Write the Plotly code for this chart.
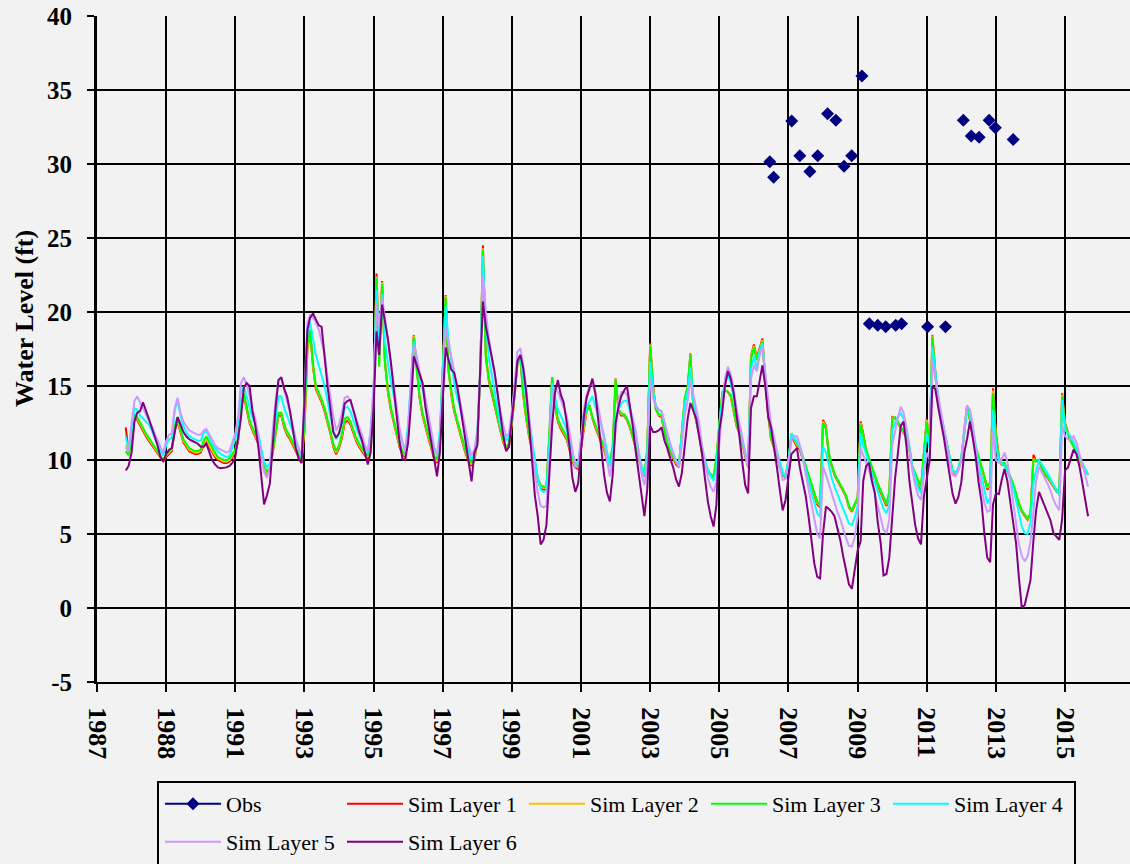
import pandas as pd
import plotly.graph_objects as go

# ---------------- data (monthly simulated heads, starting Nov 1987) ----------------
START = "1987-11-01"

layer1 = [
    12.2, 10.5,
    11.2, 12.9, 12.7, 12.3, 12.0, 11.6, 11.3, 11.0, 10.7, 10.4, 10.1, 9.9,
    10.2, 10.4, 10.6, 12.0, 12.6, 11.9, 11.2, 10.9, 10.6, 10.5, 10.4, 10.4,
    10.5, 11.0, 11.3, 10.9, 10.5, 10.2, 10.0, 9.9, 9.8, 9.8, 9.9, 10.2,
    10.5, 11.3, 13.5, 14.3, 13.4, 12.5, 12.0, 11.6, 11.1, 10.2, 9.4, 9.0,
    9.4, 10.5, 11.8, 13.0, 13.0, 12.2, 11.7, 11.4, 11.0, 10.6, 10.2, 9.8,
    12.0, 17.5, 18.7, 16.3, 14.8, 14.4, 13.9, 13.3, 12.6, 11.8, 10.9, 10.4,
    10.8, 11.5, 12.5, 12.7, 12.4, 11.8, 11.3, 10.9, 10.6, 10.3, 10.1, 11.0,
    14.0, 22.6, 17.0, 22.1, 16.7, 14.6, 13.4, 12.6, 11.7, 10.9, 10.4, 10.2,
    11.5, 14.5, 18.45, 16.2, 14.2, 13.0, 12.2, 11.5, 10.8, 10.1, 9.8, 11.0,
    16.0, 21.15, 16.3, 14.4, 13.3, 12.5, 11.8, 11.1, 10.4, 9.9, 9.6, 10.0,
    11.2, 16.0, 24.5, 17.2, 15.4, 14.5, 13.6, 12.8, 12.0, 11.2, 10.7, 10.9,
    12.4, 14.5, 16.6, 16.9, 14.4, 12.8, 11.6, 10.7, 9.8, 8.6, 8.1, 8.0,
    8.0, 11.5, 15.6, 13.6, 12.6, 12.1, 11.8, 11.4, 10.7, 9.9, 9.5, 9.4,
    10.8, 12.2, 13.3, 13.7, 12.8, 12.2, 11.7, 11.2, 10.7, 10.0, 9.6, 10.5,
    15.5, 13.3, 13.0, 13.0, 12.7, 12.2, 11.5, 10.7, 10.1, 9.5, 8.9, 10.5,
    17.9, 15.0, 13.5, 13.0, 12.9, 11.9, 11.1, 10.5, 10.1, 9.7, 9.5, 11.5,
    14.0, 14.8, 17.2, 13.5, 12.7, 11.7, 10.4, 9.6, 9.2, 8.95, 8.8, 10.0,
    12.3, 14.4, 14.7, 14.6, 14.3, 13.2, 12.3, 11.8, 11.0, 10.3, 9.5, 17.0,
    17.8, 16.9, 17.5, 18.2, 15.3, 13.0, 11.4, 10.8, 10.3, 9.5, 9.0, 8.8,
    9.8, 11.6, 11.3, 10.9, 10.7, 10.0, 9.4, 8.8, 8.2, 7.6, 7.0, 6.8,
    12.7, 12.3, 10.4, 9.6, 9.0, 8.6, 8.3, 7.9, 7.5, 6.8, 6.5, 6.9,
    7.4, 12.6, 11.8, 10.6, 10.0, 9.5, 8.9, 8.3, 7.8, 7.3, 6.9, 7.5,
    12.9, 12.8, 12.5, 12.1, 11.8, 11.5, 10.7, 9.5, 9.0, 8.4, 8.0, 10.5,
    12.8, 10.9, 18.45, 16.0, 14.0, 12.9, 11.9, 10.9, 10.1, 9.2, 9.0, 9.4,
    10.0, 11.8, 13.6, 12.7, 11.6, 10.8, 10.2, 9.5, 8.8, 8.0, 8.3, 14.85,
    11.8, 10.2, 9.7, 9.7, 9.3, 8.8, 8.3, 7.6, 7.0, 6.5, 6.2, 5.95,
    6.3, 10.35, 9.9, 10.0, 9.4, 9.0, 8.8, 8.5, 8.2, 7.9, 7.7, 14.5,
    12.5, 11.8, 11.3, 10.9, 10.4, 10.0, 9.6, 9.3, 9.0,
]

layer2 = [
    11.0, 10.4,
    11.3, 13.0, 12.8, 12.4, 12.1, 11.7, 11.4, 11.1, 10.8, 10.5, 10.2, 9.95,
    10.3, 10.5, 10.7, 12.1, 12.7, 12.0, 11.3, 11.0, 10.7, 10.6, 10.5, 10.5,
    10.6, 11.1, 11.4, 11.0, 10.6, 10.3, 10.1, 10.0, 9.9, 9.9, 10.0, 10.3,
    10.6, 11.4, 13.65, 14.4, 13.5, 12.6, 12.1, 11.7, 11.2, 10.3, 9.5, 9.1,
    9.45, 10.55, 11.9, 13.1, 13.1, 12.3, 11.8, 11.5, 11.1, 10.7, 10.3, 9.9,
    12.2, 17.6, 18.75, 16.4, 14.9, 14.5, 14.0, 13.4, 12.7, 11.9, 11.0, 10.5,
    10.9, 11.65, 12.65, 12.8, 12.5, 11.9, 11.4, 11.0, 10.7, 10.4, 10.2, 11.2,
    14.1, 22.4, 16.6, 22.0, 16.6, 14.7, 13.5, 12.7, 11.8, 11.0, 10.5, 10.3,
    11.7, 14.7, 18.4, 16.1, 14.25, 13.1, 12.3, 11.6, 10.9, 10.2, 9.9, 11.2,
    16.1, 21.1, 16.15, 14.5, 13.4, 12.6, 11.9, 11.2, 10.5, 10.0, 9.7, 10.1,
    11.3, 16.0, 24.3, 17.0, 15.5, 14.6, 13.7, 12.9, 12.1, 11.3, 10.8, 11.0,
    12.5, 14.6, 16.6, 16.9, 14.45, 12.9, 11.7, 10.8, 9.9, 8.7, 8.2, 8.1,
    8.1, 11.6, 15.6, 13.7, 12.7, 12.2, 11.9, 11.5, 10.8, 10.0, 9.6, 9.5,
    11.0, 12.4, 13.35, 13.65, 12.85, 12.3, 11.8, 11.3, 10.8, 10.1, 9.7, 10.7,
    15.45, 13.35, 13.1, 13.05, 12.75, 12.25, 11.55, 10.75, 10.15, 9.55, 8.95, 10.6,
    17.8, 14.9, 13.45, 13.05, 13.0, 11.95, 11.15, 10.55, 10.15, 9.8, 9.6, 11.8,
    14.1, 14.9, 17.15, 13.55, 12.75, 11.75, 10.45, 9.65, 9.25, 9.0, 8.85, 10.1,
    12.4, 14.5, 14.7, 14.6, 14.35, 13.25, 12.35, 11.85, 11.1, 10.4, 9.6, 16.9,
    17.7, 16.8, 17.4, 18.1, 15.25, 13.05, 11.45, 10.85, 10.4, 9.55, 9.05, 8.85,
    9.9, 11.7, 11.4, 11.0, 10.8, 10.1, 9.5, 8.9, 8.3, 7.7, 7.1, 6.9,
    12.6, 12.2, 10.45, 9.65, 9.05, 8.65, 8.35, 7.95, 7.55, 6.85, 6.55, 6.95,
    7.45, 12.5, 11.7, 10.65, 10.05, 9.55, 8.95, 8.35, 7.9, 7.35, 7.0, 7.7,
    12.85, 12.85, 12.55, 12.15, 11.85, 11.55, 10.75, 9.55, 9.05, 8.5, 8.1, 10.5,
    12.7, 10.95, 18.4, 15.9, 14.05, 12.95, 11.95, 10.95, 10.15, 9.25, 9.05, 9.45,
    10.1, 11.9, 13.6, 12.75, 11.65, 10.85, 10.25, 9.55, 8.85, 8.1, 8.4, 14.7,
    11.6, 10.1, 9.75, 9.75, 9.35, 8.85, 8.35, 7.65, 7.05, 6.55, 6.25, 6.0,
    6.35, 10.1, 9.95, 10.0, 9.45, 9.05, 8.85, 8.55, 8.25, 7.95, 7.75, 14.4,
    12.4, 11.8, 11.3, 10.9, 10.4, 10.0, 9.6, 9.3, 9.05,
]

layer3 = [
    10.6, 10.3,
    11.4, 13.1, 12.9, 12.5, 12.2, 11.8, 11.5, 11.2, 10.9, 10.6, 10.3, 10.0,
    10.4, 10.6, 10.8, 12.3, 12.9, 12.1, 11.4, 11.1, 10.8, 10.7, 10.6, 10.6,
    10.7, 11.3, 11.6, 11.2, 10.8, 10.5, 10.2, 10.1, 10.0, 10.0, 10.1, 10.4,
    10.7, 11.5, 13.8, 14.5, 13.6, 12.7, 12.2, 11.8, 11.3, 10.4, 9.6, 9.2,
    9.5, 10.6, 12.0, 13.2, 13.2, 12.4, 11.9, 11.6, 11.2, 10.8, 10.4, 10.0,
    12.4, 17.8, 18.8, 16.5, 15.0, 14.6, 14.1, 13.5, 12.8, 12.0, 11.1, 10.6,
    11.0, 11.8, 12.8, 12.9, 12.6, 12.0, 11.5, 11.1, 10.8, 10.5, 10.3, 11.4,
    14.3, 22.3, 16.3, 21.9, 16.5, 14.8, 13.6, 12.8, 11.9, 11.1, 10.6, 10.4,
    12.0, 15.0, 18.3, 16.0, 14.3, 13.2, 12.4, 11.7, 11.0, 10.3, 10.0, 11.5,
    16.2, 21.0, 16.0, 14.6, 13.5, 12.7, 12.0, 11.3, 10.6, 10.1, 9.8, 10.2,
    11.4, 16.0, 24.2, 16.8, 15.6, 14.7, 13.8, 13.0, 12.2, 11.4, 10.9, 11.1,
    12.7, 14.7, 16.6, 16.9, 14.5, 13.0, 11.8, 10.9, 10.0, 8.8, 8.3, 8.2,
    8.2, 11.8, 15.6, 13.8, 12.8, 12.3, 12.0, 11.6, 10.9, 10.1, 9.7, 9.55,
    11.2, 12.6, 13.4, 13.6, 12.9, 12.4, 11.9, 11.4, 10.9, 10.2, 9.8, 11.0,
    15.4, 13.4, 13.15, 13.1, 12.8, 12.3, 11.6, 10.8, 10.2, 9.6, 9.0, 10.8,
    17.7, 14.8, 13.4, 13.1, 13.05, 12.0, 11.2, 10.6, 10.2, 9.85, 9.65, 12.0,
    14.2, 15.0, 17.1, 13.6, 12.8, 11.8, 10.5, 9.7, 9.3, 9.05, 8.9, 10.2,
    12.5, 14.6, 14.7, 14.6, 14.4, 13.3, 12.4, 11.9, 11.2, 10.45, 9.65, 16.8,
    17.6, 16.75, 17.3, 18.0, 15.2, 13.1, 11.5, 10.9, 10.45, 9.6, 9.1, 8.9,
    10.0, 11.8, 11.5, 11.1, 10.9, 10.2, 9.6, 9.0, 8.4, 7.8, 7.2, 6.95,
    12.5, 12.1, 10.5, 9.7, 9.1, 8.7, 8.4, 8.0, 7.6, 6.9, 6.6, 7.0,
    7.5, 12.4, 11.6, 10.7, 10.1, 9.6, 9.0, 8.4, 7.95, 7.4, 7.05, 7.9,
    12.8, 12.9, 12.6, 12.2, 11.9, 11.6, 10.8, 9.6, 9.1, 8.6, 8.2, 10.5,
    12.6, 11.0, 18.3, 15.8, 14.1, 13.0, 12.0, 11.0, 10.2, 9.3, 9.1, 9.5,
    10.2, 12.0, 13.6, 12.8, 11.7, 10.9, 10.3, 9.6, 8.9, 8.2, 8.5, 14.5,
    11.5, 10.0, 9.8, 9.8, 9.4, 8.9, 8.4, 7.7, 7.1, 6.6, 6.3, 6.05,
    6.4, 10.0, 10.0, 10.0, 9.5, 9.1, 8.9, 8.6, 8.3, 8.0, 7.85, 14.3,
    12.4, 11.7, 11.3, 10.9, 10.5, 10.1, 9.7, 9.4, 9.0,
]

layer4 = [
    11.6, 10.6,
    12.0, 13.5, 13.4, 13.0, 12.8, 12.6, 12.4, 12.0, 11.5, 11.0, 10.6, 10.3,
    11.0, 11.4, 11.5, 13.3, 14.1, 13.0, 12.3, 11.9, 11.6, 11.5, 11.4, 11.3,
    11.3, 11.8, 12.0, 11.5, 11.1, 10.8, 10.6, 10.4, 10.3, 10.2, 10.3, 10.8,
    11.4, 12.5, 14.5, 15.0, 14.3, 13.5, 12.9, 12.4, 11.8, 10.8, 9.9, 9.5,
    9.8, 11.2, 12.9, 14.3, 14.3, 13.5, 13.0, 12.5, 11.9, 11.3, 10.7, 10.2,
    13.5, 18.6, 19.3, 18.2, 17.1, 16.4, 15.7, 15.0, 14.0, 13.0, 12.0, 11.4,
    11.8, 12.5, 13.5, 13.6, 13.3, 12.7, 12.2, 11.6, 11.2, 10.8, 10.5, 12.0,
    14.8, 21.5, 18.0, 21.2, 18.0, 16.6, 15.3, 14.4, 13.2, 12.0, 11.2, 10.6,
    12.5, 15.5, 18.0, 16.8, 15.6, 14.8, 13.8, 12.9, 11.8, 10.8, 10.3, 12.0,
    16.0, 20.4, 18.2, 16.8, 15.2, 14.2, 13.6, 12.6, 11.6, 10.6, 10.0, 10.5,
    11.8, 16.0, 23.8, 19.0, 17.0, 15.8, 14.6, 13.6, 12.4, 11.8, 11.35, 11.6,
    12.9, 14.8, 16.8, 17.0, 15.6, 14.0, 12.6, 11.2, 10.0, 8.8, 8.0, 7.85,
    7.9, 11.0, 15.2, 14.2, 13.4, 13.0, 12.6, 12.1, 11.3, 10.4, 9.9, 9.7,
    11.3, 12.8, 13.6, 14.0, 14.3, 13.6, 13.0, 12.4, 11.6, 10.6, 9.6, 10.5,
    12.8, 13.4, 13.8, 14.0, 14.0, 13.3, 12.5, 11.7, 10.6, 9.6, 9.0, 10.3,
    16.65, 14.6, 13.7, 13.4, 13.3, 12.5, 11.6, 11.0, 10.45, 10.0, 9.7, 11.8,
    13.8, 14.6, 16.3, 14.0, 13.1, 12.2, 10.9, 10.0, 9.4, 8.9, 8.6, 9.5,
    12.2, 14.2, 15.2, 15.75, 15.2, 14.2, 13.2, 12.4, 11.4, 10.5, 9.6, 16.2,
    17.0, 16.2, 17.3, 17.9, 15.8, 13.5, 12.0, 11.3, 10.6, 9.8, 9.2, 8.9,
    9.9, 11.8, 11.5, 11.2, 10.9, 10.1, 9.3, 8.5, 7.8, 7.1, 6.4, 6.15,
    10.9, 10.5, 9.7, 8.8, 8.2, 7.7, 7.2, 6.7, 6.2, 5.7, 5.6, 6.1,
    6.9, 11.8, 11.0, 10.3, 9.8, 9.1, 8.5, 7.9, 7.3, 6.7, 6.4, 7.0,
    12.0, 12.5, 12.9, 13.15, 12.8, 12.0, 11.0, 9.6, 8.8, 8.1, 7.75, 9.8,
    11.8, 10.8, 17.65, 16.0, 14.3, 13.0, 12.0, 11.0, 10.0, 9.2, 9.1, 9.5,
    10.2, 12.0, 13.3, 13.1, 12.2, 11.0, 9.8, 8.9, 7.9, 7.1, 7.4, 13.4,
    11.0, 10.0, 9.8, 9.6, 9.3, 8.7, 8.1, 7.3, 6.3, 5.5, 5.05, 5.0,
    5.8, 8.5, 9.3, 10.0, 9.7, 9.4, 9.1, 8.7, 8.3, 7.9, 7.6, 14.05,
    12.0, 11.8, 11.6, 11.2, 10.7, 10.3, 9.8, 9.4, 9.0,
]

layer5 = [
    10.8, 10.6,
    12.5, 14.0, 14.3, 13.9, 13.6, 13.2, 12.8, 12.3, 11.8, 11.3, 10.9, 10.5,
    11.3, 11.7, 11.8, 13.5, 14.2, 13.2, 12.6, 12.3, 12.0, 11.9, 11.8, 11.7,
    11.7, 12.0, 12.1, 11.7, 11.3, 11.0, 10.8, 10.7, 10.6, 10.5, 10.6, 11.2,
    11.8, 13.0, 15.2, 15.6, 15.1, 14.3, 13.4, 12.8, 11.6, 10.3, 9.2, 8.8,
    9.5, 12.0, 14.0, 15.4, 15.5, 14.7, 14.0, 13.2, 12.3, 11.4, 10.8, 10.3,
    14.5, 19.3, 19.8, 19.6, 19.3, 18.8, 18.0, 17.2, 15.6, 14.2, 13.0, 12.0,
    12.4, 13.2, 14.2, 14.3, 14.0, 13.3, 12.8, 12.2, 11.7, 11.0, 10.6, 12.0,
    15.0, 20.6, 19.0, 21.0, 19.5, 18.2, 16.7, 15.0, 13.6, 12.2, 11.2, 10.5,
    12.0, 15.8, 17.7, 17.0, 16.0, 15.2, 14.2, 13.2, 12.0, 10.9, 10.3, 11.5,
    15.0, 19.0, 18.0, 17.0, 15.8, 14.8, 14.0, 13.0, 12.0, 11.0, 10.3, 10.7,
    12.0, 16.0, 22.5, 20.0, 18.3, 17.0, 15.8, 14.7, 13.3, 12.4, 11.6, 11.8,
    13.3, 15.3, 17.3, 17.55, 16.4, 14.9, 13.2, 11.0, 9.2, 7.8, 6.9, 6.8,
    6.9, 10.0, 14.5, 14.8, 14.6, 14.1, 13.6, 13.0, 11.9, 10.6, 9.5, 9.7,
    11.8, 13.5, 14.4, 15.0, 15.2, 14.5, 13.6, 12.6, 11.4, 10.0, 8.9, 10.0,
    12.0, 14.0, 14.6, 14.6, 14.4, 13.6, 12.8, 12.0, 10.5, 9.1, 8.3, 9.5,
    15.6, 14.2, 13.6, 13.4, 13.3, 12.5, 11.8, 11.1, 10.5, 9.9, 9.5, 11.0,
    13.0, 14.0, 15.4, 14.4, 13.4, 12.5, 11.0, 9.8, 8.8, 8.2, 7.85, 8.5,
    11.2, 13.6, 15.5, 16.3, 15.8, 14.8, 13.5, 12.6, 11.5, 10.4, 9.5, 15.5,
    16.4, 16.0, 17.0, 17.65, 15.8, 14.0, 12.4, 11.6, 10.5, 9.5, 8.65, 8.7,
    9.7, 11.4, 11.6, 11.6, 11.0, 10.2, 9.1, 8.0, 7.0, 6.0, 5.0, 4.7,
    9.55, 9.0, 8.4, 7.7, 7.0, 6.5, 6.0, 5.3, 4.7, 4.2, 4.15, 4.8,
    6.2, 10.8, 10.3, 9.8, 9.3, 8.5, 7.7, 6.9, 6.2, 5.3, 5.05, 6.0,
    11.0, 12.0, 12.8, 13.6, 13.2, 12.2, 10.8, 9.3, 8.3, 7.6, 7.3, 9.0,
    10.5, 10.0, 16.75, 15.5, 14.2, 13.2, 12.2, 11.0, 9.8, 9.0, 8.9, 9.3,
    10.0, 12.2, 13.7, 13.4, 12.4, 10.8, 9.3, 8.2, 7.1, 6.5, 6.6, 12.0,
    10.0, 9.8, 10.0, 10.5, 9.9, 8.6, 7.3, 5.8, 4.3, 3.5, 3.15, 3.5,
    4.5, 6.5, 8.6, 9.55, 9.2, 8.8, 8.4, 7.9, 7.3, 6.9, 6.6, 12.35,
    11.6, 11.4, 11.4, 11.6, 11.2, 10.4, 9.8, 9.0, 8.2,
]

layer6 = [
    9.3, 9.6,
    10.5, 12.6, 13.2, 13.3, 13.9, 13.4, 12.8, 12.2, 11.6, 11.0, 10.2, 9.9,
    10.4, 10.7, 10.8, 12.0, 12.9, 12.4, 11.9, 11.6, 11.4, 11.3, 11.2, 11.1,
    10.9, 10.9, 11.1, 10.6, 10.0, 9.7, 9.5, 9.45, 9.45, 9.5, 9.6, 9.8,
    10.2, 11.5, 12.8, 14.9, 15.2, 15.0, 13.3, 12.3, 10.9, 9.0, 7.0, 7.6,
    8.4, 11.0, 13.5, 15.4, 15.6, 14.8, 14.3, 13.3, 12.1, 10.8, 10.1, 9.8,
    14.0, 18.8, 19.6, 19.9, 19.5, 19.1, 19.0, 16.8, 15.0, 13.5, 11.9, 11.5,
    11.8, 12.6, 13.8, 14.0, 14.05, 13.4, 12.6, 11.9, 11.3, 10.5, 9.7, 10.5,
    13.5, 18.7, 17.1, 20.5, 19.5, 18.2, 16.7, 14.8, 13.2, 11.3, 10.1, 10.0,
    11.2, 13.8, 17.0, 16.3, 15.8, 15.2, 13.6, 12.4, 11.3, 10.0, 8.9, 10.5,
    14.0, 17.6, 16.8, 16.1, 15.9, 15.0, 13.8, 12.4, 11.2, 9.8, 8.55, 10.5,
    11.0, 16.3, 20.7, 19.0, 18.0, 17.2, 16.0, 14.6, 13.0, 11.7, 10.6, 10.9,
    12.8, 14.6, 16.7, 17.1, 16.2, 14.6, 12.5, 10.0, 7.6, 6.2, 4.3, 4.6,
    5.6, 9.0, 12.3, 14.6, 15.4, 14.4, 13.9, 12.6, 10.9, 8.8, 7.85, 8.4,
    11.0, 13.0, 14.2, 14.8, 15.5, 14.5, 12.8, 10.8, 9.0, 7.8, 7.2, 9.0,
    12.5, 13.6, 14.3, 14.7, 15.0, 13.6, 12.3, 10.6, 9.2, 7.6, 6.2, 8.0,
    12.3, 11.9, 11.9, 12.0, 12.2, 11.3, 10.8, 10.1, 9.5, 8.7, 8.2, 9.1,
    11.2, 12.8, 13.85, 13.3, 12.8, 11.6, 10.5, 8.8, 7.2, 6.2, 5.5, 7.0,
    12.0, 13.3, 15.0, 16.0, 15.5, 14.5, 13.1, 11.6, 9.8, 8.3, 7.75, 13.5,
    14.3, 14.3, 15.3, 16.4, 15.0, 12.9, 12.2, 11.0, 9.5, 8.0, 6.6, 7.3,
    9.0, 10.4, 10.6, 10.8, 9.5, 8.4, 7.6, 6.2, 4.6, 3.0, 2.1, 2.0,
    5.0, 6.85, 6.7, 6.5, 6.2, 5.4, 4.6, 3.5, 2.6, 1.6, 1.3, 2.6,
    3.9, 4.5, 8.6, 9.6, 9.8, 8.6, 7.8, 5.8, 4.4, 2.2, 2.3, 3.4,
    6.0, 8.8, 10.4, 12.3, 12.6, 10.9, 8.6, 7.0, 5.6, 4.7, 4.3, 7.5,
    8.9, 10.0, 15.0, 14.8, 13.6, 12.6, 11.5, 10.2, 8.9, 7.7, 7.05, 7.5,
    8.5, 10.5, 11.4, 12.6, 11.5, 10.2, 8.5, 7.2, 5.0, 3.4, 3.1, 7.0,
    7.75, 7.7, 8.6, 9.4, 8.6, 7.2, 5.6, 4.4, 2.0, 0.0, 0.2, 1.1,
    1.9, 4.6, 6.6, 7.85, 7.4, 6.9, 6.4, 5.9, 5.05, 4.8, 4.6, 6.0,
    9.3, 9.5, 10.0, 10.7, 10.4, 9.6, 8.5, 7.3, 6.2,
]

obs_dates = [
    "2006-06-18", "2006-07-28", "2007-02-04", "2007-05-01", "2007-08-15",
    "2007-11-06", "2008-02-18", "2008-05-16", "2008-08-10", "2008-10-30",
    "2009-02-15", "2009-05-04", "2009-08-01", "2009-10-24", "2010-02-07",
    "2010-04-10", "2011-01-10", "2011-07-18", "2012-01-22", "2012-04-15",
    "2012-07-07", "2012-10-21", "2012-12-25", "2013-07-02",
]
obs_values = [
    30.15, 29.1, 32.9, 30.55, 29.5,
    30.55, 33.4, 32.95, 29.85, 30.55,
    35.95, 19.2, 19.1, 19.0, 19.1,
    19.2, 19.0, 19.0, 32.95, 31.9,
    31.8, 32.95, 32.45, 31.65,
]

tick_dates = ["1987-01-01", "1989-01-01", "1991-01-01", "1993-01-01", "1995-01-01",
              "1997-01-01", "1999-01-01", "2001-01-01", "2003-01-01", "2005-01-01",
              "2007-01-01", "2009-01-01", "2011-01-01", "2013-01-01", "2015-01-01"]
tick_labels = ["1987", "1988", "1991", "1993", "1995", "1997", "1999", "2001",
               "2003", "2005", "2007", "2009", "2011", "2013", "2015"]
y_ticks = [-5, 0, 5, 10, 15, 20, 25, 30, 35, 40]

series_names = ["Sim Layer 1", "Sim Layer 2", "Sim Layer 3",
                "Sim Layer 4", "Sim Layer 5", "Sim Layer 6"]
series_values = [layer1, layer2, layer3, layer4, layer5, layer6]
series_colors = ["#FF0000", "#FFC000", "#00FF00", "#00FFFF", "#CC99FF", "#800080"]

for v in series_values:
    assert len(v) == len(layer1), (len(v), len(layer1))

# ---------------- figure ----------------
W, H = 1130, 864
L, R, T, B = 97, 0, 16, 182
PW, PH = W - L - R, H - T - B


def px_x(px):
    return (px - L) / PW


def px_y(py):
    return (H - B - py) / PH


BG = "#F2F2F2"
SERIF = "Liberation Serif"

fig = go.Figure()

# observations: markers only in plot (gaps between points), line+marker in legend
ox, oy = [], []
for d, v in zip(obs_dates, obs_values):
    ox += [d, None]
    oy += [v, None]
fig.add_trace(go.Scatter(
    x=ox, y=oy, name="Obs", mode="lines+markers", connectgaps=False,
    line=dict(color="#000080", width=2),
    marker=dict(symbol="diamond", size=10, color="#000080"),
    legend="legend",
))

for i, (name, vals, col) in enumerate(zip(series_names, series_values, series_colors)):
    dates = pd.date_range(START, periods=len(vals), freq="MS")
    fig.add_trace(go.Scatter(
        x=dates, y=vals, name=name, mode="lines",
        line=dict(color=col, width=2),
        legend="legend" if i < 4 else "legend2",
    ))

legend_common = dict(
    orientation="h", xanchor="left", yanchor="middle",
    font=dict(family=SERIF, size=22, color="black"),
    bgcolor="rgba(0,0,0,0)", borderwidth=0,
    itemwidth=56, entrywidth=111, entrywidthmode="pixels",
    itemclick=False, itemdoubleclick=False,
)

fig.update_layout(
    width=W, height=H,
    margin=dict(l=L, r=R, t=T, b=B, pad=0, autoexpand=False),
    paper_bgcolor=BG, plot_bgcolor=BG,
    showlegend=True,
    legend=dict(x=px_x(160), y=px_y(804), **legend_common),
    legend2=dict(x=px_x(160), y=px_y(842), **legend_common),
    xaxis=dict(
        type="date", range=["1987-01-01", "2016-11-17"],
        tickmode="array", tickvals=tick_dates, ticktext=tick_labels,
        tickangle=90, ticks="outside", ticklen=8, tickwidth=2, tickcolor="black",
        tickfont=dict(family=SERIF, size=26, color="black", weight="bold"),
        ticklabelstandoff=10, automargin=False,
        showgrid=True, gridcolor="black", gridwidth=2,
        showline=True, linecolor="black", linewidth=2,
        zeroline=False,
    ),
    yaxis=dict(
        range=[-5, 40], tickmode="array", tickvals=y_ticks,
        ticktext=[str(t) for t in y_ticks],
        ticks="outside", ticklen=7, tickwidth=2, tickcolor="black",
        tickfont=dict(family=SERIF, size=25, color="black", weight="bold"),
        ticklabelstandoff=10, automargin=False,
        showgrid=True, gridcolor="black", gridwidth=2,
        showline=True, linecolor="black", linewidth=3,
        zeroline=False,
    ),
    shapes=[dict(
        type="rect", xref="paper", yref="paper",
        x0=px_x(158), x1=px_x(1075), y0=px_y(782), y1=px_y(900),
        line=dict(color="black", width=2), fillcolor="rgba(0,0,0,0)", layer="above",
    )],
    annotations=[dict(
        text="Water Level (ft)", xref="paper", yref="paper",
        x=px_x(24), y=px_y(319), xanchor="center", yanchor="middle",
        textangle=-90, showarrow=False,
        font=dict(family=SERIF, size=26, color="black", weight="bold"),
    )],
)

fig.write_html(
    "out.html",
    config={"displayModeBar": False, "staticPlot": True},
    post_script="document.body.style.margin='0px';document.body.style.overflow='hidden';"
                "document.body.style.background='#F2F2F2';",
)
